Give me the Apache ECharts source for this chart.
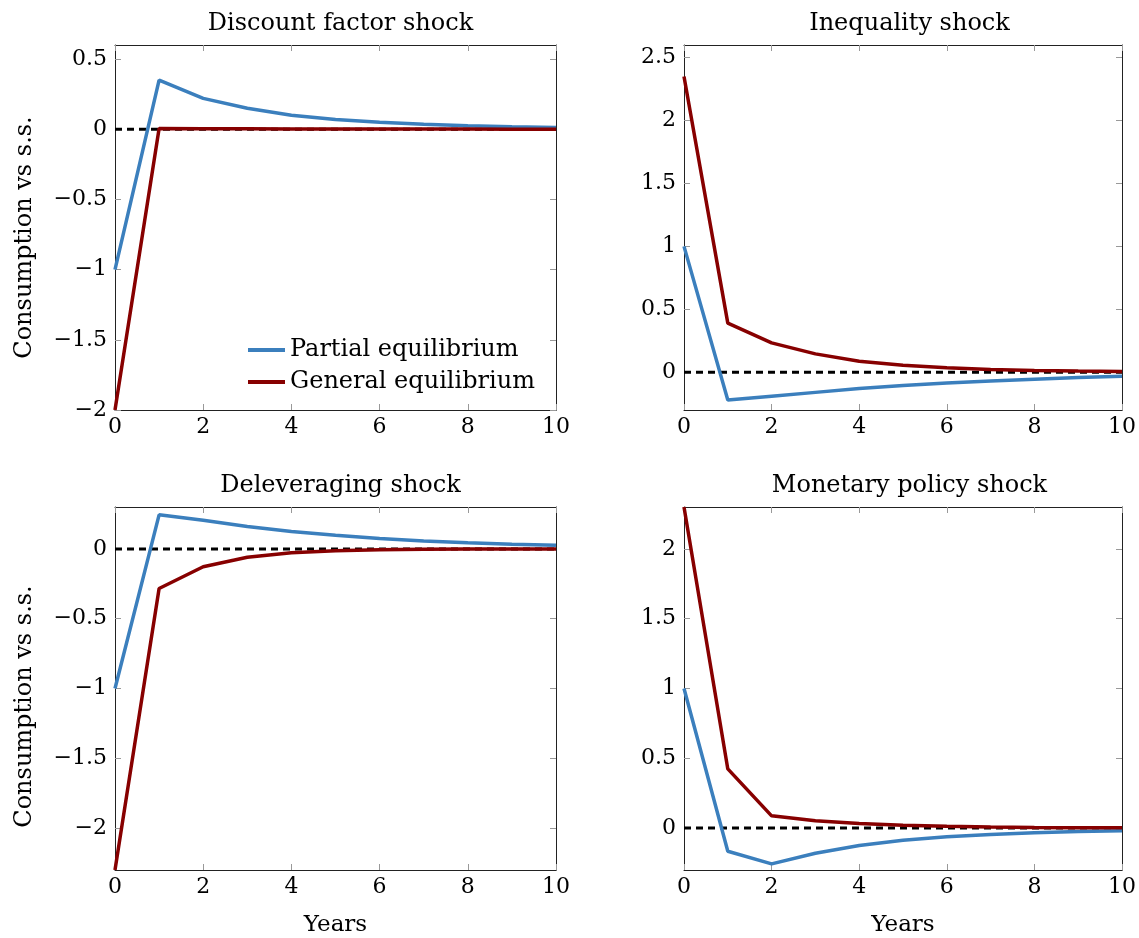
<!DOCTYPE html>
<html>
<head>
<meta charset="utf-8">
<script src="https://cdn.jsdelivr.net/npm/echarts@6/dist/echarts.min.js"></script>
<style>
    html, body { margin: 0; padding: 0; background: #fff; }
    #chart { width: 1139px; height: 938px; }
</style>
</head>
<body>
<div id="chart"></div>
<script>
// years after the shock
const years = [0, 1, 2, 3, 4, 5, 6, 7, 8, 9, 10];
const xTicks = [0, 2, 4, 6, 8, 10];

// consumption vs steady state
const discountPE = [-1.0, 0.35, 0.22, 0.15, 0.10, 0.07, 0.05, 0.035, 0.025, 0.018, 0.013];
const discountGE = [-2.0, 0.005, 0.004, 0.003, 0.002, 0.002, 0.001, 0.001, 0.001, 0.0, 0.0];
const inequalityPE = [1.0, -0.22, -0.19, -0.16, -0.13, -0.105, -0.085, -0.07, -0.055, -0.042, -0.032];
const inequalityGE = [2.35, 0.39, 0.233, 0.146, 0.088, 0.055, 0.035, 0.022, 0.014, 0.009, 0.006];
const deleveragingPE = [-1.0, 0.244, 0.205, 0.16, 0.125, 0.097, 0.074, 0.056, 0.044, 0.034, 0.026];
const deleveragingGE = [-2.3, -0.284, -0.128, -0.06, -0.028, -0.013, -0.006, -0.003, -0.001, 0.0, 0.0];
const monetaryPE = [1.0, -0.166, -0.256, -0.18, -0.125, -0.087, -0.062, -0.045, -0.033, -0.025, -0.019];
const monetaryGE = [2.3, 0.424, 0.088, 0.052, 0.033, 0.021, 0.013, 0.008, 0.005, 0.003, 0.002];

// y tick positions of each panel
const yTicks = [
    [-2, -1.5, -1, -0.5, 0, 0.5],
    [0, 0.5, 1, 1.5, 2, 2.5],
    [-2, -1.5, -1, -0.5, 0],
    [0, 0.5, 1, 1.5, 2],
];
const yRanges = [[-2, 0.6], [-0.3, 2.6], [-2.3, 0.3], [-0.3, 2.3]];

const titles = ["Discount factor shock", "Inequality shock", "Deleveraging shock", "Monetary policy shock"];
const seriesNames = ["Partial equilibrium", "General equilibrium"];

const FONT = "DejaVu Serif";
const FS = 22;      // tick labels
const FS_TXT = 24;  // titles, axis names, legend
const BLUE = "#3b7fbd";
const RED = "#870000";

// plot boxes (px)
const boxes = [
    { left: 115, top: 45 },
    { left: 684, top: 45 },
    { left: 115, top: 507 },
    { left: 684, top: 507 },
];
const W = 441, H = 365;

const panels = [
    [discountPE, discountGE],
    [inequalityPE, inequalityGE],
    [deleveragingPE, deleveragingGE],
    [monetaryPE, monetaryGE],
];

function pairs(vals) {
    return years.map((x, i) => [x, vals[i]]);
}

function fmt(v) {
    return String(Math.round(v * 10) / 10).replace("-", "\u2212");
}

function tickStyle(vals) {
    return { show: true, inside: true, length: 6, customValues: vals, lineStyle: { color: "#999", width: 1 } };
}
const axisLine = { show: true, onZero: false, lineStyle: { color: "#222", width: 1 } };

const grid = [], xAxis = [], yAxis = [], series = [], title = [];

boxes.forEach((b, i) => {
    grid.push({ left: b.left, top: b.top, width: W, height: H, containLabel: false });

    title.push({
        text: titles[i],
        left: b.left + W / 2,
        top: b.top - 38,
        textAlign: "center",
        textStyle: { fontFamily: FONT, fontSize: FS_TXT, fontWeight: "normal", color: "#000" },
    });

    const bottomRow = i >= 2;
    xAxis.push({
        type: "value", gridIndex: i, position: "bottom",
        min: 0, max: 10,
        axisLine: axisLine, axisTick: tickStyle(xTicks), splitLine: { show: false },
        axisLabel: { fontFamily: FONT, fontSize: FS, color: "#000", margin: 6, customValues: xTicks },
        name: bottomRow ? "Years" : "",
        nameLocation: "middle", nameGap: 44,
        nameTextStyle: { fontFamily: FONT, fontSize: FS_TXT - 1, color: "#000" },
    });
    xAxis.push({
        type: "value", gridIndex: i, position: "top",
        min: 0, max: 10,
        axisLine: axisLine, axisTick: tickStyle(xTicks), splitLine: { show: false },
        axisLabel: { show: false },
    });

    const leftCol = i % 2 === 0;
    yAxis.push({
        type: "value", gridIndex: i, position: "left",
        min: yRanges[i][0], max: yRanges[i][1],
        axisLine: axisLine, axisTick: tickStyle(yTicks[i]), splitLine: { show: false },
        axisLabel: { fontFamily: FONT, fontSize: FS, color: "#000", margin: 8, customValues: yTicks[i], formatter: fmt },
        name: leftCol ? "Consumption vs s.s." : "",
        nameLocation: "middle", nameGap: 78, nameRotate: 90,
        nameTextStyle: {
            fontFamily: FONT, fontSize: FS_TXT, color: "#000",
            padding: bottomRow ? [0, 36, 0, 0] : [0, 20, 0, 0],
        },
    });
    yAxis.push({
        type: "value", gridIndex: i, position: "right",
        min: yRanges[i][0], max: yRanges[i][1],
        axisLine: axisLine, axisTick: tickStyle(yTicks[i]), splitLine: { show: false },
        axisLabel: { show: false },
    });

    // zero reference line
    series.push({
        name: "zero", type: "line", xAxisIndex: 2 * i, yAxisIndex: 2 * i,
        data: [[0, 0], [10, 0]], symbol: "none", silent: true,
        lineStyle: { color: "#000", width: 3, type: [7, 5] }, z: 1,
    });
    series.push({
        name: seriesNames[0], type: "line", xAxisIndex: 2 * i, yAxisIndex: 2 * i,
        data: pairs(panels[i][0]), symbol: "none",
        lineStyle: { color: BLUE, width: 3.5 }, itemStyle: { color: BLUE }, z: 2,
    });
    series.push({
        name: seriesNames[1], type: "line", xAxisIndex: 2 * i, yAxisIndex: 2 * i,
        data: pairs(panels[i][1]), symbol: "none",
        lineStyle: { color: RED, width: 3.5 }, itemStyle: { color: RED }, z: 3,
    });
});

const chart = echarts.init(document.getElementById("chart"));
chart.setOption({
    animation: false,
    backgroundColor: "#fff",
    title: title,
    grid: grid,
    xAxis: xAxis,
    yAxis: yAxis,
    legend: {
        data: seriesNames,
        orient: "vertical",
        left: 243, top: 333,
        icon: "rect",
        itemWidth: 37, itemHeight: 4, itemGap: 8,
        textStyle: { fontFamily: FONT, fontSize: FS_TXT, color: "#000" },
    },
    series: series,
});
</script>
</body>
</html>
